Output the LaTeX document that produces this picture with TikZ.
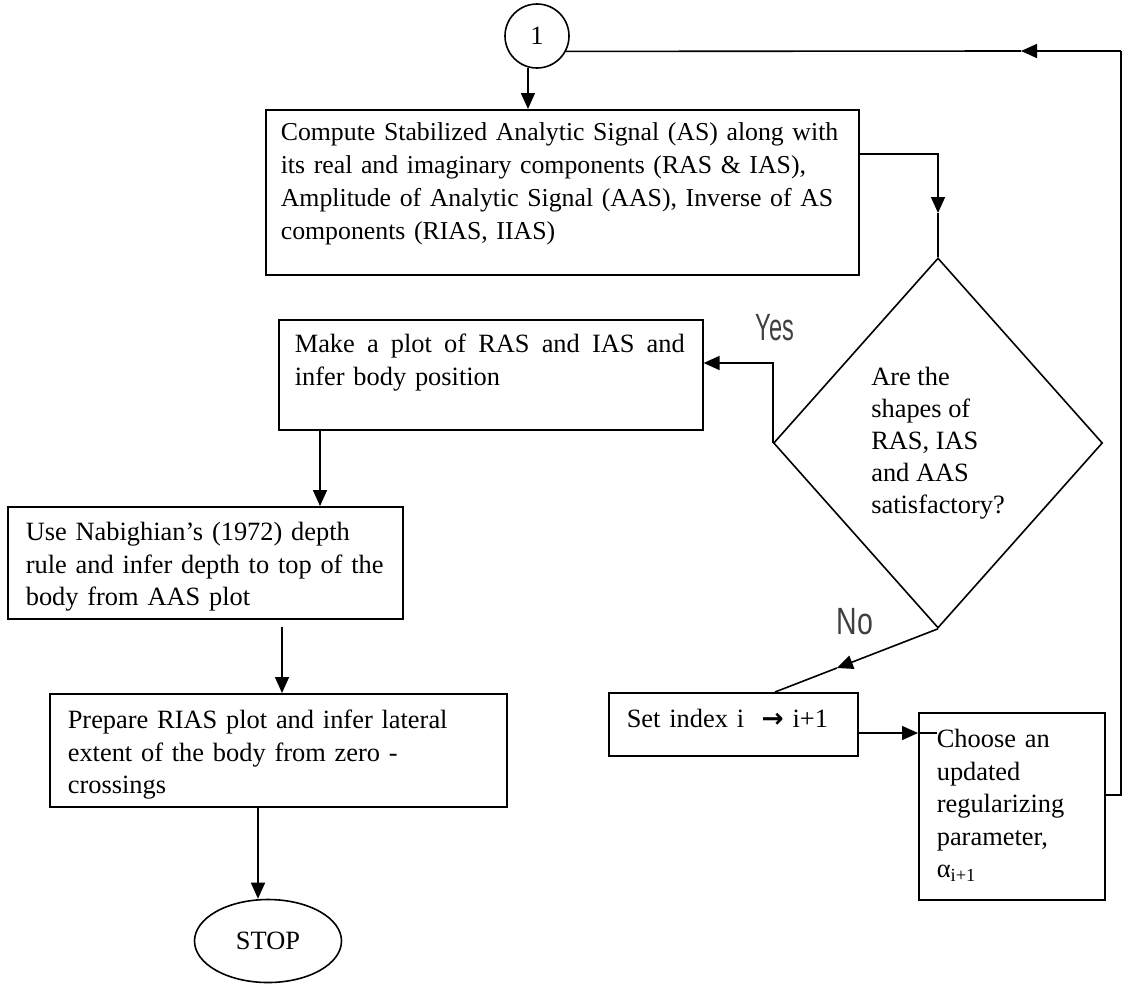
\documentclass[tikz,border=0pt]{standalone}
\usepackage{fontspec}
\setmainfont{Liberation Serif}
\newfontfamily\yesnofont{Liberation Sans}
\newfontfamily\symbfont{DejaVu Sans}
\usetikzlibrary{shapes.geometric,arrows.meta,calc}
\begin{document}
\begin{tikzpicture}[x=0.5pt,y=-0.5pt]
\tikzset{
    box/.style={draw, line width=0.8pt, anchor=north west, inner xsep=9pt, inner ysep=0pt, align=left, font=\fontsize{13.2}{16.2}\selectfont},
    quest/.style={draw, diamond, line width=0.8pt, inner sep=0pt, minimum width=164.5pt, minimum height=185pt, align=left, font=\fontsize{13.2}{16}\selectfont},
    conn/.style={draw, circle, line width=0.8pt, inner sep=0pt, minimum size=32pt, font=\fontsize{13.2}{16}\selectfont},
    stopper/.style={draw, ellipse, line width=0.8pt, inner sep=0pt, minimum width=73.5pt, minimum height=41.5pt, font=\fontsize{13.2}{16}\selectfont},
    yesno/.style={font=\yesnofont\fontsize{19}{19}\selectfont, text=black!75},
    flow/.style={line width=0.8pt},
    flowA/.style={line width=0.8pt, -{Triangle[length=8pt,width=7pt]}}}
\def\xs{0.62}

\useasboundingbox (0,0) rectangle (1122,985);

\node[conn] (one) at (537,36) {1};
\node[box, inner xsep=7.5pt, text width=281.5pt, text height=15.5pt, text depth=67pt, font=\fontsize{12.9}{16.5}\selectfont] (comp) at (265,109)
    {Compute Stabilized Analytic Signal (AS) along with\\its real and imaginary components (RAS \& IAS),\\Amplitude of Analytic Signal (AAS), Inverse of AS\\components (RIAS, IIAS)};
\node[quest] (dec) at (938,443) {Are the\\shapes of\\RAS, IAS\\and AAS\\satisfactory?};
\node[box, text width=196pt, inner xsep=8pt, text height=16.5pt, text depth=38.5pt] (make) at (278,319)
    {\hbox to 195pt{Make\hfil\ a\hfil\ plot\hfil\ of\hfil\ RAS\hfil\ and\hfil\ IAS\hfil\ and}\\infer body position};
\node[box, text width=179.5pt, text height=17pt, text depth=39pt] (use) at (7,506)
    {Use Nabighian's (1972) depth\\rule and infer depth to top of the\\body from AAS plot};
\node[box, text width=210.5pt, text height=17.5pt, text depth=39pt] (prep) at (49,693)
    {Prepare RIAS plot and infer lateral\\extent of the body from zero -\\crossings};
\node[stopper] (stop) at (268,941) {STOP};
\node[box, text width=106.5pt, text height=17.5pt, text depth=14pt] (set) at (608,692)
    {Set index i~~{\symbfont\bfseries →} i+1};
\node[box, text width=75pt, text height=17.5pt, text depth=76pt] (choose) at (918,712)
    {Choose an\\updated\\regularizing\\parameter,\\α\textsubscript{i+1}};

\node[yesno] (yes) at (775,328) {\scalebox{\xs}[1]{Yes}};
\node[yesno] (no) at (855,622) {\scalebox{0.75}[1]{No}};

\draw[flowA] (one.-106) -- (one.-106 |- comp.north);

\path (comp.north east) ++(0,45) coordinate (c1);
\path (938,213) coordinate (c2);
\draw[flowA] (c1) -| (c2);
\draw[flow] (c2) -- (dec.north);

\path (dec.west) ++(0,-80) coordinate (c3);
\draw[flowA] (dec.west) -- (c3) -- (c3 -| make.east);

\path (set.north west) ++(167,0) coordinate (c5);
\path ($(dec.south)!0.62!(c5)$) coordinate (c4);
\draw[flowA] (dec.south) -- (c4);
\draw[flow] (c4) -- (c5);

\path (set.north east) ++(0,41) coordinate (c6);
\draw[flowA] (c6) -- (c6 -| choose.west);
\draw[flow] (c6 -| choose.west) -- ++(19,0);

\path (choose.north east) ++(0,83) coordinate (c7);
\path (1121,51) coordinate (c8);
\path (1021,51) coordinate (c9);
\draw[flow] (c7) -| (c8);
\draw[flowA] (c8) -- (c9);
\draw[flow] (c9) -- (one.-28);

\path (make.south west) ++(42,0) coordinate (c10);
\draw[flowA] (c10) -- (c10 |- use.north);

\path (use.south west) ++(275,0) coordinate (c11);
\draw[flowA, shorten <=3.5pt] (c11) -- (c11 |- prep.north);

\path (prep.south west) ++(209,0) coordinate (c12);
\draw[flowA] (c12) -- (c12 |- stop.north);

\end{tikzpicture}
\end{document}
